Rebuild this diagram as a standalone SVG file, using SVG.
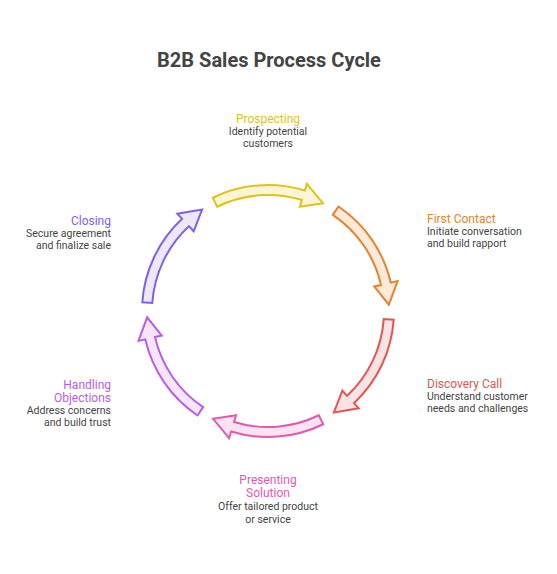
<svg xmlns="http://www.w3.org/2000/svg" width="557" height="574" viewBox="0 0 557 574">
<style>
.t{font-family:Roboto,"Liberation Sans",Arial,sans-serif;}
.title{font-size:20px;font-weight:bold;fill:#444;}
.h{font-size:12px;}
.d{font-size:10.5px;fill:#444;}
.a{stroke-width:2;stroke-linejoin:miter;}
</style>
<defs>
<path id="arr" d="M212.76,197.75 A126,126 0 0 1 304.84,190.51 L306.89,183.81 L322.93,203.19 L299.87,206.76 L301.92,200.07 A116,116 0 0 0 217.15,206.74 Z"/>
</defs>
<rect width="557" height="574" fill="#ffffff"/>
<text class="t title" x="269" y="67" text-anchor="middle">B2B Sales Process Cycle</text>
<g id="connectors">
<use href="#arr" class="a" fill="#fbf5d3" stroke="#dcc41c"/>
<use href="#arr" class="a" fill="#fdeadb" stroke="#e5832e" transform="rotate(60 268 311)"/>
<use href="#arr" class="a" fill="#fce3e3" stroke="#e25555" transform="rotate(120 268 311)"/>
<use href="#arr" class="a" fill="#fce3f2" stroke="#e05bb0" transform="rotate(180 268 311)"/>
<use href="#arr" class="a" fill="#f6e6fc" stroke="#b95ee8" transform="rotate(240 268 311)"/>
<use href="#arr" class="a" fill="#ece8fd" stroke="#7d62e8" transform="rotate(300 268 311)"/>
</g>
<g id="prospecting">
<text class="t h" x="268" y="123" text-anchor="middle" fill="#dcc41c">Prospecting</text>
<text class="t d" x="268" y="135" text-anchor="middle">Identify potential</text>
<text class="t d" x="268" y="147" text-anchor="middle">customers</text>
</g>
<g id="first-contact">
<text class="t h" x="427" y="223" fill="#e5832e">First Contact</text>
<text class="t d" x="427" y="235">Initiate conversation</text>
<text class="t d" x="427" y="247">and build rapport</text>
</g>
<g id="discovery-call">
<text class="t h" x="427" y="388" fill="#e25555">Discovery Call</text>
<text class="t d" x="427" y="400">Understand customer</text>
<text class="t d" x="427" y="412">needs and challenges</text>
</g>
<g id="presenting-solution">
<text class="t h" x="268" y="484" text-anchor="middle" fill="#e05bb0">Presenting</text>
<text class="t h" x="268" y="497" text-anchor="middle" fill="#e05bb0">Solution</text>
<text class="t d" x="268" y="510" text-anchor="middle">Offer tailored product</text>
<text class="t d" x="268" y="523" text-anchor="middle">or service</text>
</g>
<g id="handling-objections">
<text class="t h" x="111" y="389" text-anchor="end" fill="#b95ee8">Handling</text>
<text class="t h" x="111" y="402" text-anchor="end" fill="#b95ee8">Objections</text>
<text class="t d" x="111" y="414" text-anchor="end">Address concerns</text>
<text class="t d" x="111" y="426" text-anchor="end">and build trust</text>
</g>
<g id="closing">
<text class="t h" x="111" y="225" text-anchor="end" fill="#7d62e8">Closing</text>
<text class="t d" x="111" y="237" text-anchor="end">Secure agreement</text>
<text class="t d" x="111" y="249" text-anchor="end">and finalize sale</text>
</g>
</svg>
